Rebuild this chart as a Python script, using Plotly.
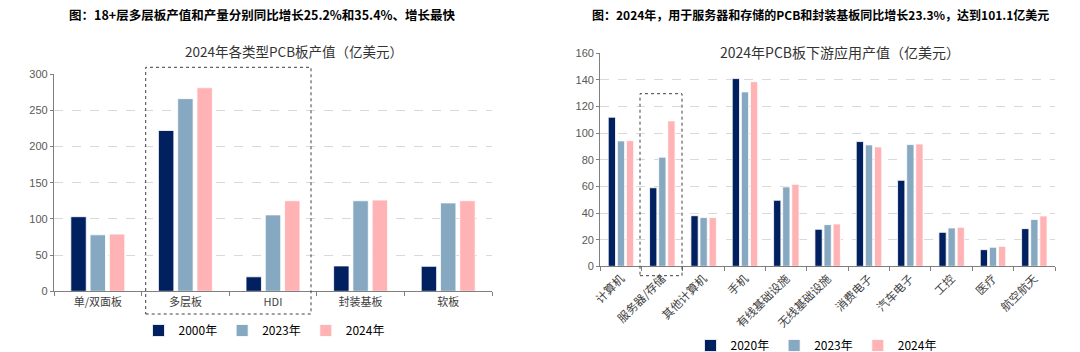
import plotly.graph_objects as go

# ---------------- data ----------------
left_categories = ["单/双面板", "多层板", "HDI", "封装基板", "软板"]
left_series_names = ["2000年", "2023年", "2024年"]
left_2000 = [103, 222, 20, 35, 34.5]
left_2023 = [78, 266, 105.5, 125, 122]
left_2024 = [79, 281, 125, 126, 125]

right_categories = ["计算机", "服务器/存储", "其他计算机", "手机", "有线基础设施",
                    "无线基础设施", "消费电子", "汽车电子", "工控", "医疗", "航空航天"]
right_series_names = ["2020年", "2023年", "2024年"]
right_2020 = [112, 59, 38, 141, 49.6, 27.8, 93.7, 64.6, 25.5, 12.5, 28.3]
right_2023 = [94.2, 82, 36.6, 131, 59.6, 31.3, 91.2, 91.4, 28.8, 14.3, 35.1]
right_2024 = [94.4, 109.2, 36.6, 138.7, 61.6, 31.8, 89.7, 91.9, 29.3, 15, 37.8]

left_yticks = [0, 50, 100, 150, 200, 250, 300]
right_yticks = [0, 20, 40, 60, 80, 100, 120, 140, 160]

colors = ["#002060", "#86A8C0", "#FFB3B5"]
FONT = "Noto Sans CJK SC"

fig = go.Figure()

for name, vals, c in zip(left_series_names, [left_2000, left_2023, left_2024], colors):
    fig.add_trace(go.Bar(x=left_categories, y=vals, name=name, marker_color=c,
                         marker_line=dict(color="rgba(255,255,255,0.8)", width=1),
                         xaxis="x", yaxis="y", legend="legend"))
for name, vals, c in zip(right_series_names, [right_2020, right_2023, right_2024], colors):
    fig.add_trace(go.Bar(x=right_categories, y=vals, name=name, marker_color=c,
                         marker_line=dict(color="rgba(255,255,255,0.8)", width=1),
                         xaxis="x2", yaxis="y2", legend="legend2"))

H = 352.0
W = 1080.0

def ydom(top, bottom):
    return [1 - bottom / H, 1 - top / H]

axis_common = dict(showline=True, linecolor="#7F7F7F", linewidth=1.3, automargin=False)
tickfont = dict(family="Arial, Liberation Sans", size=11, color="#595959")

fig.update_layout(
    width=1080, height=352,
    margin=dict(l=0, r=0, t=0, b=0, autoexpand=False),
    paper_bgcolor="white", plot_bgcolor="white",
    barmode="group", bargap=0.34, bargroupgap=0.2,
    font=dict(family=FONT, color="#333333"),
    xaxis=dict(domain=[54 / W, 492 / W], anchor="y", type="category",
               range=[-0.5, 4.5], ticks="outside", tickson="boundaries",
               ticklen=4, tickcolor="#7F7F7F",
               tickfont=dict(family=FONT, size=11, color="#404040"),
               **axis_common),
    yaxis=dict(domain=ydom(74, 291.3), anchor="x", range=[0, 300],
               tickvals=left_yticks, showgrid=True, gridcolor="#D9D9D9",
               griddash="dash", gridwidth=1, tickfont=tickfont,
               zeroline=False, ticks="outside", ticklen=3, tickcolor="#7F7F7F",
               **axis_common),
    xaxis2=dict(domain=[600.3 / W, 1055 / W], anchor="y2", type="category",
                range=[-0.5, 10.5], ticks="outside", tickson="boundaries",
                ticklen=4, tickcolor="#7F7F7F", tickangle=-45,
                tickfont=dict(family=FONT, size=11.5, color="#404040"),
                **axis_common),
    yaxis2=dict(domain=ydom(53.3, 266.3), anchor="x2", range=[0, 160],
                tickvals=right_yticks, showgrid=True, gridcolor="#D9D9D9",
                griddash="dash", gridwidth=1, tickfont=tickfont,
                zeroline=False, ticks="outside", ticklen=3, tickcolor="#7F7F7F",
                **axis_common),
    legend=dict(orientation="h", x=264 / W, xanchor="center", y=1 - 330.5 / H,
                yanchor="middle", font=dict(family=FONT, size=12, color="#000000"),
                itemwidth=30, tracegroupgap=0, bgcolor="rgba(0,0,0,0)"),
    legend2=dict(orientation="h", x=816 / W, xanchor="center", y=1 - 345.5 / H,
                 yanchor="middle", font=dict(family=FONT, size=12, color="#000000"),
                 itemwidth=30, tracegroupgap=0, bgcolor="rgba(0,0,0,0)"),
    showlegend=True,
)

annotations = [
    dict(text="<b>图：18+层多层板产值和产量分别同比增长25.2%和35.4%、增长最快</b>",
         x=262 / W, y=1 - 15 / H, font=dict(size=12.5, color="#000000", family=FONT)),
    dict(text="2024年各类型PCB板产值（亿美元）",
         x=294 / W, y=1 - 51 / H, font=dict(size=13.5, color="#333333", family=FONT)),
    dict(text="<b>图：2024年，用于服务器和存储的PCB和封装基板同比增长23.3%，达到101.1亿美元</b>",
         x=820 / W, y=1 - 15 / H, font=dict(size=12, color="#000000", family=FONT)),
    dict(text="2024年PCB板下游应用产值（亿美元）",
         x=840 / W, y=1 - 52 / H, font=dict(size=14, color="#333333", family=FONT),
         bgcolor="white"),
]
for a in annotations:
    a.update(xref="paper", yref="paper", showarrow=False, xanchor="center", yanchor="middle")
fig.update_layout(annotations=annotations)

shapes = [
    dict(type="rect", xref="paper", yref="paper",
         x0=145.7 / W, x1=311 / W, y0=1 - 314 / H, y1=1 - 67.3 / H,
         line=dict(color="#404040", width=1, dash="dot")),
    dict(type="rect", xref="paper", yref="paper",
         x0=640 / W, x1=682 / W, y0=1 - 275.7 / H, y1=1 - 93.7 / H,
         line=dict(color="#404040", width=1, dash="dot")),
]
fig.update_layout(shapes=shapes)

fig.write_html("out.html")
